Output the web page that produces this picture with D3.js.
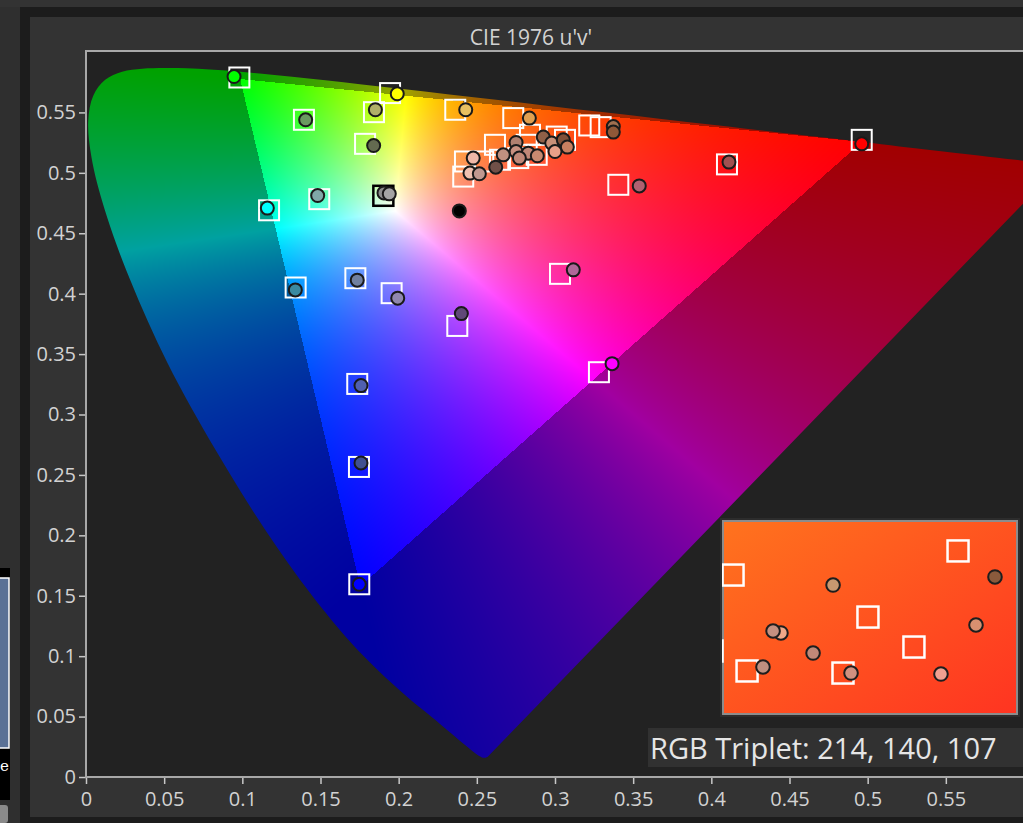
<!DOCTYPE html>
<html>
<head>
<meta charset="utf-8">
<script src="https://cdn.jsdelivr.net/npm/d3@7"></script>
<style>
html, body { margin: 0; padding: 0; background: #2f2f2f; overflow: hidden; }
svg { display: block; }
</style>
</head>
<body>
<svg id="chart" width="1023" height="823"></svg>
<script>
// spectral locus, CIE 1931 2 deg chromaticity (x, y), 380..700 nm
var locusNm = [380,385,390,395,400,405,410,415,420,425,430,435,440,445,450,455,460,465,470,475,480,485,490,495,500,505,510,515,520,525,530,535,540,545,550,555,560,565,570,575,580,585,590,595,600,605,610,615,620,625,630,635,640,645,650,660,670,680,700];
var locusX = [0.1741,0.1740,0.1738,0.1736,0.1733,0.1730,0.1726,0.1721,0.1714,0.1703,0.1689,0.1669,0.1644,0.1611,0.1566,0.1510,0.1440,0.1355,0.1241,0.1096,0.0913,0.0687,0.0454,0.0235,0.0082,0.0039,0.0139,0.0389,0.0743,0.1142,0.1547,0.1929,0.2296,0.2658,0.3016,0.3373,0.3731,0.4087,0.4441,0.4788,0.5125,0.5448,0.5752,0.6029,0.6270,0.6482,0.6658,0.6801,0.6915,0.7006,0.7079,0.7140,0.7190,0.7230,0.7260,0.7300,0.7320,0.7334,0.7347];
var locusY = [0.0050,0.0050,0.0049,0.0049,0.0048,0.0048,0.0048,0.0048,0.0051,0.0058,0.0069,0.0086,0.0109,0.0138,0.0177,0.0227,0.0297,0.0399,0.0578,0.0868,0.1327,0.2007,0.2950,0.4127,0.5384,0.6548,0.7502,0.8120,0.8338,0.8262,0.8059,0.7816,0.7543,0.7243,0.6923,0.6589,0.6245,0.5896,0.5547,0.5202,0.4866,0.4544,0.4242,0.3965,0.3725,0.3514,0.3340,0.3197,0.3083,0.2993,0.2920,0.2859,0.2809,0.2770,0.2740,0.2700,0.2680,0.2666,0.2653];

// target points (u', v')
var targetU = [0.0981,0.1945,0.1394,0.1842,0.1785,0.1492,0.1171,0.2362,0.2733,0.3219,0.3292,0.3405,0.2840,0.3011,0.3064,0.2616,0.2424,0.2413,0.2541,0.2648,0.2765,0.2883,0.2819,0.4100,0.4962,0.1341,0.1723,0.1955,0.2375,0.3032,0.3281,0.1735,0.1746,0.1748];
var targetV = [0.5789,0.5660,0.5439,0.5502,0.5240,0.4782,0.4690,0.5522,0.5453,0.5392,0.5378,0.4901,0.5315,0.5300,0.5273,0.5232,0.5094,0.4969,0.5094,0.5108,0.5122,0.5149,0.5232,0.5070,0.5273,0.4051,0.4128,0.4004,0.3733,0.4164,0.3350,0.3253,0.2566,0.1595];
var whiteTargetU = [0.1902];
var whiteTargetV = [0.4810];

// measured points (u', v') and their patch colour
var measU = [0.0947,0.1991,0.1405,0.1851,0.1840,0.1906,0.1940,0.1482,0.1160,0.2429,0.2836,0.3539,0.3373,0.3373,0.2925,0.2979,0.3053,0.3079,0.3000,0.2751,0.2751,0.2829,0.2887,0.2772,0.2669,0.2621,0.2477,0.2456,0.2516,0.2388,0.4113,0.4962,0.1339,0.1735,0.1994,0.2401,0.3117,0.3365,0.1759,0.1759,0.1748];
var measV = [0.5797,0.5654,0.5439,0.5522,0.5226,0.4834,0.4826,0.4812,0.4708,0.5522,0.5453,0.4892,0.5383,0.5337,0.5296,0.5246,0.5273,0.5213,0.5176,0.5251,0.5176,0.5163,0.5141,0.5122,0.5149,0.5047,0.5122,0.4998,0.4992,0.4685,0.5089,0.5240,0.4031,0.4112,0.3963,0.3835,0.4197,0.3421,0.3239,0.2599,0.1595];
var measColor = ["#00ff00","#ffff00","#6a9a60","#b0b068","#646a50","#8c8c8c","#a4a4a4","#80a8a8","#00ffff","#e8c060","#e0a050","#b06070","#a07050","#905838","#906048","#c89078","#805038","#c88060","#e8a088","#b08070","#c89080","#c08878","#c88a70","#c08878","#c09080","#705048","#f0b8a8","#f0c0b0","#c09890","#000000","#a05050","#ff0000","#3a8aa0","#7080a0","#9088b0","#604878","#b06898","#ff00ff","#5060b0","#405090","#0000ff"];

// zoomed inset window
var insetDomainU = [0.28, 0.30];
var insetDomainV = [0.515, 0.528];
var insetTargetU = [0.27918,0.28062,0.29603,0.28986,0.29301,0.28158,0.28815];
var insetTargetV = [0.51922,0.52439,0.52603,0.52153,0.51949,0.51786,0.51772];
var insetMeasU = [0.28747,0.29856,0.28390,0.28336,0.29726,0.28610,0.28267,0.28870,0.29486];
var insetMeasV = [0.52371,0.52426,0.52045,0.52058,0.52099,0.51908,0.51813,0.51772,0.51765];
var insetMeasColor = ["#c89870","#8a5a3c","#f0a888","#c49080","#d89070","#c08878","#c09080","#d09080","#f0a090"];

var tickValues = [0, 0.05, 0.1, 0.15, 0.2, 0.25, 0.3, 0.35, 0.4, 0.45, 0.5, 0.55];
var titleText = "CIE 1976 u'v'";
var rgbTriplet = [214, 140, 107];

var svg = d3.select("#chart");
var font = "'Open Sans', 'Noto Sans', sans-serif";

var plotL = 86, plotT = 51, plotR = 1023, plotB = 777;
var x = d3.scaleLinear().domain([0, 0.6]).range([86, 1024]);
var y = d3.scaleLinear().domain([0, 0.6]).range([777, 52]);

function toUV(cx, cy) {
    var d = -2 * cx + 12 * cy + 3;
    return [4 * cx / d, 9 * cy / d];
}
var locus = locusX.map(function(cx, i) { return toUV(cx, locusY[i]); });

// window frame
svg.append("rect").attr("x", 0).attr("y", 0).attr("width", 1023).attr("height", 7).attr("fill", "#333");
svg.append("rect").attr("x", 20).attr("y", 7).attr("width", 1003).attr("height", 816).attr("fill", "#1c1c1c");
svg.append("rect").attr("x", 30).attr("y", 17).attr("width", 993).attr("height", 800).attr("fill", "#333");

// piece of the neighbouring window on the left
svg.append("rect").attr("x", 0).attr("y", 568).attr("width", 10).attr("height", 232).attr("fill", "#000");
svg.append("rect").attr("x", -2).attr("y", 578).attr("width", 11).attr("height", 170)
    .attr("fill", "#5a7196").attr("stroke", "#fff").attr("stroke-width", 1.5);
svg.append("text").attr("x", 0).attr("y", 771).attr("fill", "#fff")
    .style("font-family", "'DejaVu Serif', serif").style("font-size", "15px").text("e");
svg.append("rect").attr("x", -4).attr("y", 805).attr("width", 12).attr("height", 18).attr("rx", 3).attr("fill", "#8a8a8a");

// colour fill of the diagram, drawn pixel by pixel on a canvas
var cw = plotR - plotL, ch = plotB - plotT;
function uvColor(u, v) {
    var d = 6 * u - 16 * v + 12;
    var cx = 9 * u / d, cy = 4 * v / d;
    if (cy <= 0.0001) cy = 0.0001;
    var X = cx / cy, Y = 1, Z = (1 - cx - cy) / cy;
    // XYZ -> linear Display P3
    var r = 2.4934969 * X - 0.9313836 * Y - 0.4027108 * Z;
    var g = -0.8294890 * X + 1.7626641 * Y + 0.0236247 * Z;
    var b = 0.0358458 * X - 0.0761724 * Y + 0.9568845 * Z;
    var out = r < 0 || g < 0 || b < 0;
    r = Math.max(r, 0); g = Math.max(g, 0); b = Math.max(b, 0);
    var m = Math.max(r, g, b, 1e-6);
    var k = out ? 0.63 : 1;
    return [r / m * 255 * k, g / m * 255 * k, b / m * 255 * k];
}
var fillCanvas = document.createElement("canvas");
fillCanvas.width = cw; fillCanvas.height = ch;
var fctx = fillCanvas.getContext("2d");
var img = fctx.createImageData(cw, ch);
for (var j = 0; j < ch; j++) {
    var v = y.invert(plotT + j + 0.5);
    for (var i = 0; i < cw; i++) {
        var u = x.invert(plotL + i + 0.5);
        var c = uvColor(u, v);
        var p = (j * cw + i) * 4;
        img.data[p] = c[0]; img.data[p + 1] = c[1]; img.data[p + 2] = c[2]; img.data[p + 3] = 255;
    }
}
fctx.putImageData(img, 0, 0);

var canvas = document.createElement("canvas");
canvas.width = cw; canvas.height = ch;
var ctx = canvas.getContext("2d");
ctx.fillStyle = "#222";
ctx.fillRect(0, 0, cw, ch);
ctx.save();
ctx.beginPath();
d3.line()
    .x(function(d) { return x(d[0]) - plotL; })
    .y(function(d) { return y(d[1]) - plotT; })
    .curve(d3.curveCatmullRom)
    .context(ctx)(locus);
ctx.closePath();
ctx.clip();
ctx.drawImage(fillCanvas, 0, 0);
ctx.restore();

svg.append("image")
    .attr("x", plotL).attr("y", plotT)
    .attr("width", cw).attr("height", ch)
    .attr("href", canvas.toDataURL());

// title
svg.append("text")
    .attr("x", 531).attr("y", 45)
    .attr("text-anchor", "middle")
    .attr("fill", "#d2d2d2")
    .style("font-family", font).style("font-size", "21px")
    .text(titleText);

// axes
var yAxis = svg.append("g")
    .attr("transform", "translate(" + plotL + ",0)")
    .call(d3.axisLeft(y).tickValues(tickValues).tickSize(7).tickSizeOuter(0).tickPadding(3)
        .tickFormat(function(d) { return String(d); }));
var xAxis = svg.append("g")
    .attr("transform", "translate(0," + plotB + ")")
    .call(d3.axisBottom(x).tickValues(tickValues).tickSize(7).tickSizeOuter(0).tickPadding(8)
        .tickFormat(function(d) { return String(d); }));
[yAxis, xAxis].forEach(function(a) {
    a.select(".domain").remove();
    a.selectAll("line").attr("stroke", "#c8c8c8").attr("stroke-width", 1.5);
    a.selectAll("text").attr("fill", "#d2d2d2")
        .style("font-family", font).style("font-size", "20px");
});

// plot borders
svg.append("line").attr("x1", plotL - 1).attr("x2", 1023).attr("y1", plotT).attr("y2", plotT)
    .attr("stroke", "#a8a8a8").attr("stroke-width", 2);
svg.append("line").attr("x1", plotL).attr("x2", plotL).attr("y1", plotT).attr("y2", plotB + 1)
    .attr("stroke", "#a8a8a8").attr("stroke-width", 2);
svg.append("line").attr("x1", plotL).attr("x2", 1023).attr("y1", plotB).attr("y2", plotB)
    .attr("stroke", "#a8a8a8").attr("stroke-width", 2);

// targets and measurements
var marks = svg.append("g");
var sq = 20;
marks.selectAll(".target").data(targetU).enter().append("rect")
    .attr("class", "target")
    .attr("x", function(d) { return x(d) - sq / 2; })
    .attr("y", function(d, i) { return y(targetV[i]) - sq / 2; })
    .attr("width", sq).attr("height", sq)
    .attr("fill", "none").attr("stroke", "#fff").attr("stroke-width", 2);
marks.selectAll(".wtarget").data(whiteTargetU).enter().append("rect")
    .attr("class", "wtarget")
    .attr("x", function(d) { return x(d) - sq / 2; })
    .attr("y", function(d, i) { return y(whiteTargetV[i]) - sq / 2; })
    .attr("width", sq).attr("height", sq)
    .attr("fill", "none").attr("stroke", "#000").attr("stroke-width", 2.5);
marks.selectAll(".meas").data(measU).enter().append("circle")
    .attr("class", "meas")
    .attr("cx", function(d) { return x(d); })
    .attr("cy", function(d, i) { return y(measV[i]); })
    .attr("r", 6.5)
    .attr("fill", function(d, i) { return measColor[i]; })
    .attr("stroke", "#1a1a1a").attr("stroke-width", 2);

// zoomed inset
var inset = { x: 724, y: 522, w: 292, h: 191 };
var ix = d3.scaleLinear().domain(insetDomainU).range([inset.x, inset.x + inset.w]);
var iy = d3.scaleLinear().domain(insetDomainV).range([inset.y + inset.h, inset.y]);
var defs = svg.append("defs");
var grad = defs.append("linearGradient").attr("id", "insetGrad")
    .attr("x1", "0%").attr("y1", "0%").attr("x2", "100%").attr("y2", "100%");
grad.append("stop").attr("offset", "0%").attr("stop-color", "#ff731e");
grad.append("stop").attr("offset", "100%").attr("stop-color", "#ff3421");
defs.append("clipPath").attr("id", "insetClip").append("rect")
    .attr("x", inset.x - 2).attr("y", inset.y).attr("width", inset.w + 2).attr("height", inset.h);

svg.append("rect").attr("x", inset.x - 4).attr("y", inset.y - 4)
    .attr("width", inset.w + 8).attr("height", inset.h + 8).attr("fill", "#2c2c2c");
svg.append("rect").attr("x", inset.x - 1).attr("y", inset.y - 1)
    .attr("width", inset.w + 2).attr("height", inset.h + 2)
    .attr("fill", "url(#insetGrad)").attr("stroke", "#8c8c8c").attr("stroke-width", 2);

var ig = svg.append("g").attr("clip-path", "url(#insetClip)");
var isq = 21;
ig.selectAll(".itarget").data(insetTargetU).enter().append("rect")
    .attr("x", function(d) { return ix(d) - isq / 2; })
    .attr("y", function(d, i) { return iy(insetTargetV[i]) - isq / 2; })
    .attr("width", isq).attr("height", isq)
    .attr("fill", "none").attr("stroke", "#fff").attr("stroke-width", 2.5);
ig.selectAll(".imeas").data(insetMeasU).enter().append("circle")
    .attr("cx", function(d) { return ix(d); })
    .attr("cy", function(d, i) { return iy(insetMeasV[i]); })
    .attr("r", 6.8)
    .attr("fill", function(d, i) { return insetMeasColor[i]; })
    .attr("stroke", "#1e1e1e").attr("stroke-width", 2);

// RGB triplet readout
svg.append("rect").attr("x", 648).attr("y", 728).attr("width", 375).attr("height", 39).attr("fill", "#313131");
svg.append("text")
    .attr("x", 650).attr("y", 759)
    .attr("fill", "#e6e6e6")
    .style("font-family", font).style("font-size", "29px")
    .text("RGB Triplet: " + rgbTriplet.join(", "));
</script>
</body>
</html>
